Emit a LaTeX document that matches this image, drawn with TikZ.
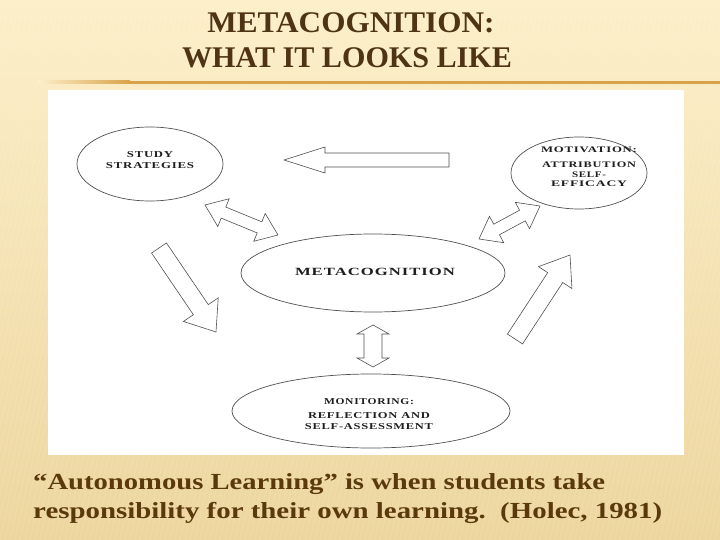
\documentclass[tikz,border=0pt]{standalone}
\usepackage{fontspec}
\usepackage{graphicx}
\setmainfont{Liberation Serif}
\newfontfamily\labfont[LetterSpace=6]{Liberation Serif}
\usetikzlibrary{shapes.geometric,calc}
\definecolor{titlebrown}{HTML}{4E3314}
\definecolor{capbrown}{HTML}{5A3A0C}
\definecolor{bgtop}{HTML}{FCEFC9}
\definecolor{bgbot}{HTML}{EDD69E}
\definecolor{goldline}{HTML}{D9A24A}
\definecolor{ink}{HTML}{1E1E1E}
\definecolor{lineink}{HTML}{505050}
\newcommand\wtext[2]{\resizebox{#1pt}{\height}{#2}}
\tikzset{
  ell/.style={ellipse, draw=lineink, line width=0.7pt, inner sep=0pt},
  lab/.style={font=\labfont\bfseries\fontsize{9}{10.5}\selectfont, text=ink, align=center, inner sep=0pt},
  blk/.style={draw=lineink, line width=0.6pt, fill=white, line join=miter},
  ttl/.style={font=\bfseries\fontsize{30}{30}\selectfont, text=titlebrown, anchor=base, inner sep=0pt},
  captext/.style={font=\bfseries\fontsize{23}{23}\selectfont, text=capbrown, anchor=base west, inner sep=0pt},
}
% single block arrow: tail, tip, half shaft, half head, head length
\newcommand\singlearrow[5]{%
  \coordinate (#2-b) at ($(#2)!#5pt!(#1)$);
  \draw[blk] ($(#1)!#3pt!90:(#2)$) -- ($(#2-b)!#3pt!-90:(#1)$) -- ($(#2-b)!#4pt!-90:(#1)$)
    -- (#2) -- ($(#2-b)!#4pt!90:(#1)$) -- ($(#2-b)!#3pt!90:(#1)$) -- ($(#1)!#3pt!-90:(#2)$) -- cycle;}
% double block arrow: tip A, tip B, half shaft, half head, head length
\newcommand\doublearrow[5]{%
  \coordinate (#1-b) at ($(#1)!#5pt!(#2)$);
  \coordinate (#2-b) at ($(#2)!#5pt!(#1)$);
  \draw[blk] (#1) -- ($(#1-b)!#4pt!90:(#2)$) -- ($(#1-b)!#3pt!90:(#2)$) -- ($(#2-b)!#3pt!-90:(#1)$)
    -- ($(#2-b)!#4pt!-90:(#1)$) -- (#2) -- ($(#2-b)!#4pt!90:(#1)$) -- ($(#2-b)!#3pt!90:(#1)$)
    -- ($(#1-b)!#3pt!-90:(#2)$) -- ($(#1-b)!#4pt!-90:(#2)$) -- cycle;}
\begin{document}
\begin{tikzpicture}[x=1pt,y=-1pt]
\useasboundingbox (0,0) rectangle (720,540);
% background
\shade[top color=bgtop, bottom color=bgbot] (0,0) rectangle (720,540);
\begin{scope}
\clip (0,0) rectangle (720,540);
\foreach \i in {-200,-195,...,720}
  \draw[white, opacity=0.09, line width=1.4pt] (\i,540) -- (\i+120,0);
\end{scope}
% title
\node[ttl] (t1) at (351,33) {\wtext{287}{METACOGNITION:}};
\node[ttl] (t2) at (347,68) {\wtext{330}{WHAT IT LOOKS LIKE}};
% gold rule
\shade[left color=bgtop, right color=goldline] (38,81) rectangle (130,84);
\fill[goldline] (130,81) rectangle (720,84);
% white panel
\fill[white] (48,90) rectangle (684,455);
% ellipses
\node[ell, minimum width=146pt, minimum height=74pt] (study) at (150,164) {};
\node[lab] (studyt) at (150,160) {\wtext{46}{STUDY}\\\wtext{88}{STRATEGIES}};
\node[ell, minimum width=136pt, minimum height=72pt] (motiv) at (579,173) {};
\node[lab, font=\labfont\bfseries\fontsize{8.5}{9.8}\selectfont] (motivt) at (589,167)
  {\wtext{96}{MOTIVATION:}\\[5pt]\wtext{94}{ATTRIBUTION}\\\wtext{34}{SELF-}\\\wtext{76}{EFFICACY}};
\node[ell, minimum width=264pt, minimum height=78pt] (meta) at (373,273) {};
\node[lab, font=\labfont\bfseries\fontsize{11}{12}\selectfont] (metat) at (375,272) {\wtext{160}{METACOGNITION}};
\node[ell, minimum width=278pt, minimum height=74pt] (monit) at (371,411) {};
\node[lab] (monitt) at (369,414)
  {\wtext{90}{MONITORING:}\\[4pt]\wtext{122}{REFLECTION AND}\\\wtext{128}{SELF-ASSESSMENT}};
% block arrows
\coordinate (a1t) at (449,160); \coordinate (a1h) at (284,160);
\singlearrow{a1t}{a1h}{7}{13}{41}
\coordinate (a2a) at (205,205); \coordinate (a2b) at (278,235);
\doublearrow{a2a}{a2b}{6}{15}{20}
\coordinate (a3t) at (159,248); \coordinate (a3h) at (216,332);
\singlearrow{a3t}{a3h}{9}{21}{27}
\coordinate (a4t) at (515,339); \coordinate (a4h) at (570,255);
\singlearrow{a4t}{a4h}{9}{20}{27}
\coordinate (a5a) at (479,239); \coordinate (a5b) at (540,206);
\doublearrow{a5a}{a5b}{6}{15}{20}
\coordinate (a6a) at (373,325); \coordinate (a6b) at (373,367);
\doublearrow{a6a}{a6b}{9}{16}{9}
% caption
\node[captext] (c1) at (33,489) {\wtext{572}{“Autonomous Learning” is when students take}};
\node[captext] (c2) at (33,518) {\wtext{629}{responsibility for their own learning.\ \ (Holec, 1981)}};
\end{tikzpicture}
\end{document}
